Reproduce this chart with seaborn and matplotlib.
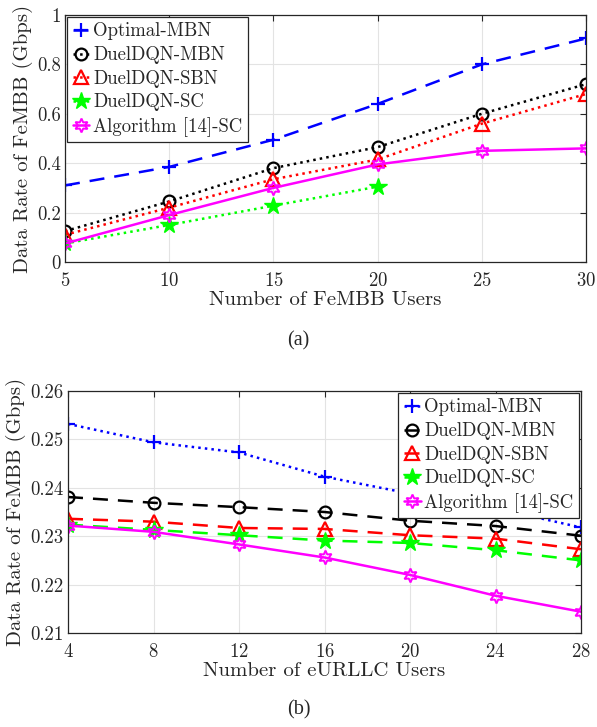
import os
import matplotlib
matplotlib.use("Agg")
import matplotlib.pyplot as plt
from matplotlib import font_manager
import seaborn as sns

# data, panel (a)
fembb_users = [5, 10, 15, 20, 25, 30]
a_optimal_mbn = [0.31, 0.385, 0.495, 0.64, 0.80, 0.905]
a_dueldqn_mbn = [0.125, 0.245, 0.38, 0.465, 0.60, 0.72]
a_dueldqn_sbn = [0.11, 0.22, 0.335, 0.415, 0.56, 0.68]
a_dueldqn_sc = [0.075, 0.15, 0.228, 0.305]
a_alg14_sc = [0.075, 0.19, 0.30, 0.395, 0.45, 0.46]

# data, panel (b)
eurllc_users = [4, 8, 12, 16, 20, 24, 28]
b_optimal_mbn = [0.2532, 0.2494, 0.2473, 0.2423, 0.2388, 0.2358, 0.2318]
b_dueldqn_mbn = [0.2381, 0.2369, 0.2360, 0.2350, 0.2332, 0.2321, 0.2301]
b_dueldqn_sbn = [0.2336, 0.2330, 0.2317, 0.2315, 0.2302, 0.2295, 0.2273]
b_dueldqn_sc = [0.2324, 0.2313, 0.2302, 0.2291, 0.2286, 0.2271, 0.2250]
b_alg14_sc = [0.2322, 0.2309, 0.2283, 0.2256, 0.2220, 0.2177, 0.2144]

labels = ["Optimal-MBN", "DuelDQN-MBN", "DuelDQN-SBN", "DuelDQN-SC", "Algorithm [14]-SC"]

sns.set_style("whitegrid")

# Computer Modern shipped with matplotlib
CM = "cmr10"
cm_path = os.path.join(matplotlib.get_data_path(), "fonts", "ttf", "cmr10.ttf")
if os.path.exists(cm_path):
    font_manager.fontManager.addfont(cm_path)
else:
    CM = "DejaVu Serif"
plt.rcParams["font.family"] = CM
plt.rcParams["axes.formatter.use_mathtext"] = True
FS_TICK = 13.5
FS_LAB = 15
FS_LEG = 13.5

hexagram = (6, 1, 0)

styles = [
    dict(color="#0000ff", marker="+", markersize=10, mew=1.6, mec="#0000ff"),
    dict(color="black", marker="o", markersize=8.5, mfc="none", mew=1.6, mec="black"),
    dict(color="red", marker="^", markersize=9.5, mfc="none", mew=1.6, mec="red"),
    dict(color="#00ff00", marker="*", markersize=13, mfc="#00ff00", mew=1.0, mec="#00ff00"),
    dict(color="magenta", marker=hexagram, markersize=10, mfc="none", mew=1.4, mec="magenta"),
]
dash = (0, (6, 4))
ls_a = [dash, ":", ":", ":", "-"]
ls_b = [":", dash, dash, dash, "-"]

fig = plt.figure(figsize=(5.97, 7.27), dpi=100)
ax1 = fig.add_axes([65 / 597, 1 - 262 / 727, 521 / 597, 247 / 727])
ax2 = fig.add_axes([68 / 597, 1 - 633 / 727, 513 / 597, 242 / 727])

series_a = [a_optimal_mbn, a_dueldqn_mbn, a_dueldqn_sbn, a_dueldqn_sc, a_alg14_sc]
for lab, ys, st, ls in zip(labels, series_a, styles, ls_a):
    xs = fembb_users[:len(ys)]
    sns.lineplot(x=xs, y=ys, ax=ax1, label=lab, linestyle=ls, lw=1.8, **st)

series_b = [b_optimal_mbn, b_dueldqn_mbn, b_dueldqn_sbn, b_dueldqn_sc, b_alg14_sc]
for lab, ys, st, ls in zip(labels, series_b, styles, ls_b):
    sns.lineplot(x=eurllc_users, y=ys, ax=ax2, label=lab, linestyle=ls, lw=1.8, **st)

ax1.set_xlim(5, 30)
ax1.set_ylim(0, 1)
ax1.set_xticks([5, 10, 15, 20, 25, 30])
ax1.set_yticks([0, 0.2, 0.4, 0.6, 0.8, 1])
ax1.set_yticklabels(["0", "0.2", "0.4", "0.6", "0.8", "1"])
ax1.set_xlabel("Number of FeMBB Users", fontsize=FS_LAB, family=CM, labelpad=1)
ax1.set_ylabel("Data Rate of FeMBB (Gbps)", fontsize=FS_LAB, family=CM, labelpad=3)

ax2.set_xlim(4, 28)
ax2.set_ylim(0.21, 0.26)
ax2.set_xticks(eurllc_users)
ax2.set_yticks([0.21, 0.22, 0.23, 0.24, 0.25, 0.26])
ax2.set_yticklabels(["0.21", "0.22", "0.23", "0.24", "0.25", "0.26"])
ax2.set_xlabel("Number of eURLLC Users", fontsize=FS_LAB, family=CM, labelpad=1)
ax2.set_ylabel("Data Rate of FeMBB (Gbps)", fontsize=FS_LAB, family=CM, labelpad=3)

for ax in (ax1, ax2):
    ax.grid(True, color="#e3e3e3", lw=0.8)
    ax.tick_params(direction="in", length=4, top=True, right=True,
                   labelsize=FS_TICK, colors="#262626")
    ax.tick_params(axis="x", pad=7)
    ax.tick_params(axis="y", pad=3)
    for t in ax.get_xticklabels() + ax.get_yticklabels():
        t.set_fontfamily(CM)
    for sp in ax.spines.values():
        sp.set_color("#262626")
        sp.set_linewidth(0.9)

leg_kw = dict(prop=dict(family=CM, size=FS_LEG), frameon=True, fancybox=False,
              edgecolor="#262626", framealpha=1, handlelength=0.9,
              handletextpad=0.2, labelspacing=0.3, borderpad=0.3,
              borderaxespad=0.1)
l1 = ax1.legend(loc="upper left", **leg_kw)
l2 = ax2.legend(loc="upper right", **leg_kw)
for l in (l1, l2):
    l.get_frame().set_linewidth(0.9)

fig.text(0.5, 1 - 341 / 727, "(a)", ha="center", va="center",
         fontsize=14.5, family="Liberation Serif")
fig.text(0.5, 1 - 710 / 727, "(b)", ha="center", va="center",
         fontsize=14.5, family="Liberation Serif")

fig.savefig("out.png", dpi=100)
